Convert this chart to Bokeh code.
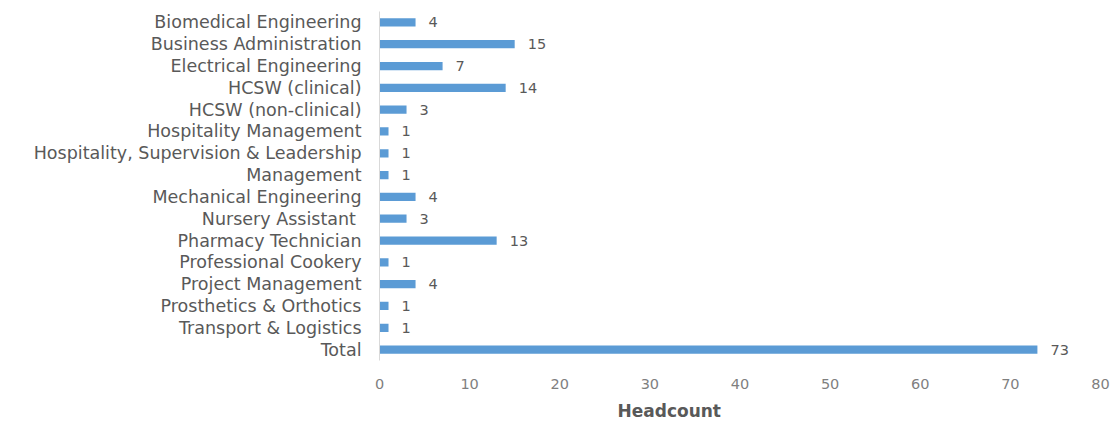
from bokeh.plotting import figure
from bokeh.models import ColumnDataSource, FactorRange, Range1d, LabelSet, Title, FixedTicker
from bokeh.core.properties import value
from bokeh.embed import file_html
from bokeh.resources import INLINE

categories = [
    "Biomedical Engineering",
    "Business Administration",
    "Electrical Engineering",
    "HCSW (clinical)",
    "HCSW (non-clinical)",
    "Hospitality Management",
    "Hospitality, Supervision & Leadership",
    "Management",
    "Mechanical Engineering",
    "Nursery  Assistant",
    "Pharmacy Technician",
    "Professional Cookery",
    "Project Management",
    "Prosthetics & Orthotics",
    "Transport & Logistics",
    "Total",
]
headcount = [4, 15, 7, 14, 3, 1, 1, 1, 4, 3, 13, 1, 4, 1, 1, 73]
x_ticks = [0, 10, 20, 30, 40, 50, 60, 70, 80]

FONT = "DejaVu Sans"
BAR = "#5B9BD5"
TXT = "#595959"

src = ColumnDataSource(dict(cat=categories, val=headcount, lab=[str(v) for v in headcount]))

p = figure(
    width=1113, height=427,
    y_range=FactorRange(factors=list(reversed(categories)), range_padding=0),
    x_range=Range1d(0, 80),
    output_backend="svg", toolbar_location=None,
    min_border_left=379, min_border_right=13, min_border_top=11, min_border_bottom=20,
)
p.hbar(y="cat", right="val", left=0, height=0.38, source=src, color=BAR, line_color=None)

labels = LabelSet(x="val", y="cat", text="lab", source=src, x_offset=13,
                  text_align="left", text_baseline="middle",
                  text_font=value(FONT), text_font_size="14.5px", text_color=TXT)
p.add_layout(labels)

p.outline_line_color = None
p.xgrid.grid_line_color = None
p.ygrid.grid_line_color = None

p.xaxis.ticker = FixedTicker(ticks=x_ticks)
p.xaxis.axis_line_color = None
p.xaxis.major_tick_line_color = None
p.xaxis.minor_tick_line_color = None
p.xaxis.major_label_text_font = FONT
p.xaxis.major_label_text_font_size = "14.5px"
p.xaxis.major_label_text_color = "#7f7f7f"
p.xaxis.major_label_standoff = 12

p.yaxis.axis_line_color = "#d9d9d9"
p.yaxis.major_tick_line_color = None
p.yaxis.minor_tick_line_color = None
p.yaxis.major_label_text_font = FONT
p.yaxis.major_label_text_font_size = "17.5px"
p.yaxis.major_label_text_color = TXT
p.yaxis.major_label_standoff = 12

t = Title(text="Headcount", align="left", offset=238, text_font=FONT,
          text_font_size="17px", text_font_style="bold", text_color=TXT, standoff=14)
p.add_layout(t, "below")

open("out.html", "w").write(file_html(p, INLINE))
